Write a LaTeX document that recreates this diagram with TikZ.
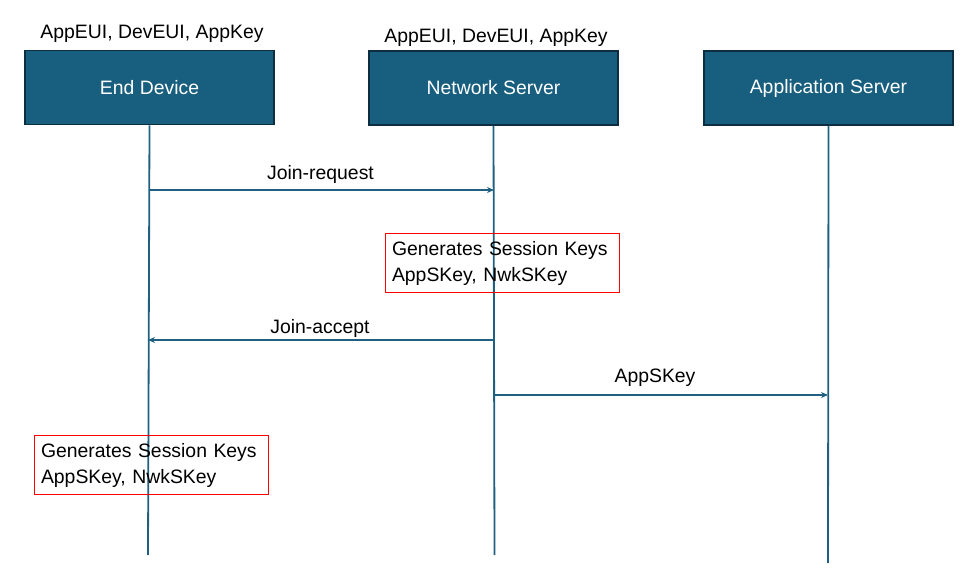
\documentclass[tikz,border=0pt]{standalone}
\usepackage{fontspec}
\setmainfont{Liberation Sans}
\usetikzlibrary{arrows.meta}
\definecolor{boxfill}{HTML}{175E7F}
\definecolor{boxedge}{HTML}{0C2E40}
\definecolor{lineblue}{HTML}{1F5F80}
\begin{document}
\begin{tikzpicture}[x=1pt,y=-1pt,
  actor/.style={draw=boxedge,line width=1.8pt,fill=boxfill,minimum width=249pt,minimum height=74pt,inner sep=0pt,text=white,font=\fontsize{19.4}{22}\selectfont},
  lbl/.style={font=\fontsize{19.4}{22}\selectfont,inner sep=0pt},
  lifeline/.style={draw=lineblue,line width=1.8pt},
  msg/.style={draw=lineblue,line width=1.8pt,-{Stealth[length=7pt,width=6pt]}},
  note/.style={draw=red,line width=1pt,align=left,anchor=north west,minimum width=234pt,minimum height=59pt,text width=221pt,inner xsep=6pt,font=\fontsize{19.4}{26}\selectfont}]
\useasboundingbox (0,0) rectangle (971,577);
\node[actor] (ed) at (149.5,87.5) {End Device};
\node[actor] (ns) at (493.5,88) {Network Server};
\node[actor] (as) at (828.5,88) {Application Server};
\node[lbl] (k1) at (152,34) {AppEUI, DevEUI, AppKey};
\node[lbl] (k2) at (496,38) {AppEUI, DevEUI, AppKey};
\coordinate (edend) at (148,555);
\coordinate (nsend) at (494.5,555);
\coordinate (asend) at (828,563);
\draw[lifeline] (ed.south) -- (edend);
\draw[lifeline] (ns.south) -- (nsend);
\draw[lifeline] (as.south) -- (asend);
\coordinate (a1s) at (149,190);
\coordinate (a1e) at (494,190);
\coordinate (a2s) at (494,340);
\coordinate (a2e) at (148,340);
\coordinate (a3s) at (494,395);
\coordinate (a3e) at (828,395);
\draw[msg] (a1s) -- node[lbl,midway,yshift=16pt,xshift=-1pt] (m1) {Join-request} (a1e);
\draw[msg] (a2s) -- node[lbl,midway,yshift=12pt,xshift=-1pt] (m2) {Join-accept} (a2e);
\draw[msg] (a3s) -- node[lbl,midway,yshift=17pt,xshift=-6pt] (m3) {AppSKey} (a3e);
\node[note] (n1) at (385,233) {Generates Session Keys\\AppSKey, NwkSKey};
\node[note] (n2) at (34,435) {Generates Session Keys\\AppSKey, NwkSKey};
\end{tikzpicture}
\end{document}
